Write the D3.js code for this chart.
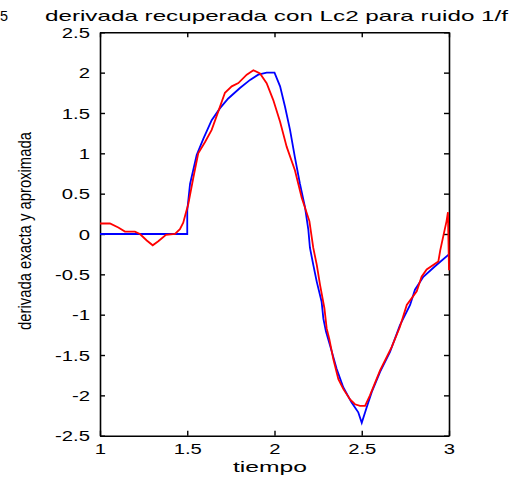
<!DOCTYPE html>
<html>
<head>
<meta charset="utf-8">
<script src="https://cdn.jsdelivr.net/npm/d3@7"></script>
<style>
  html, body { margin: 0; padding: 0; background: #fff; }
  svg { display: block; }
  text { font-family: "Liberation Sans", Arial, sans-serif; fill: #000; }
</style>
</head>
<body>
<script>
// Exact derivative (blue)
const tExact = [1.0, 1.5, 1.5, 1.516, 1.554, 1.592, 1.64, 1.688, 1.735, 1.802, 1.86, 1.907, 1.955, 2.0,
  2.032, 2.06, 2.089, 2.117, 2.146, 2.175, 2.194, 2.203, 2.222, 2.242, 2.27, 2.28, 2.295, 2.318, 2.356,
  2.394, 2.442, 2.48, 2.5, 2.528, 2.557, 2.605, 2.662, 2.719, 2.777, 2.805, 2.853, 2.92, 2.996, 3.0];
const dExact = [0, 0, 0.29, 0.62, 0.98, 1.18, 1.41, 1.56, 1.68, 1.81, 1.91, 1.975, 2.0, 2.0,
  1.83, 1.58, 1.29, 0.95, 0.62, 0.33, 0.05, -0.17, -0.38, -0.59, -0.84, -1.05, -1.21, -1.38, -1.67,
  -1.9, -2.09, -2.21, -2.34, -2.15, -1.96, -1.71, -1.46, -1.13, -0.88, -0.69, -0.53, -0.4, -0.26, -0.25];

// Recovered derivative with Lc2, 1/f noise (red)
const tApprox = [1.0, 1.057, 1.105, 1.143, 1.2, 1.229, 1.268, 1.302, 1.334, 1.378, 1.43, 1.458, 1.477,
  1.493, 1.506, 1.535, 1.563, 1.602, 1.64, 1.678, 1.716, 1.755, 1.793, 1.841, 1.879, 1.917, 1.955, 1.993,
  2.032, 2.07, 2.117, 2.156, 2.2, 2.222, 2.242, 2.261, 2.286, 2.299, 2.314, 2.337, 2.366, 2.394, 2.433,
  2.461, 2.49, 2.519, 2.547, 2.605, 2.672, 2.719, 2.758, 2.815, 2.843, 2.872, 2.939, 2.95, 2.967, 2.986,
  2.994, 3.0];
const dApprox = [0.13, 0.13, 0.08, 0.03, 0.03, 0.0, -0.08, -0.14, -0.09, -0.01, 0.0, 0.06, 0.14,
  0.27, 0.37, 0.70, 1.0, 1.14, 1.29, 1.52, 1.75, 1.83, 1.87, 1.975, 2.03, 1.99, 1.87, 1.66,
  1.39, 1.08, 0.79, 0.45, 0.16, -0.17, -0.38, -0.63, -0.92, -1.17, -1.3, -1.55, -1.8, -1.92, -2.05,
  -2.11, -2.13, -2.13, -2.0, -1.69, -1.4, -1.15, -0.88, -0.71, -0.53, -0.44, -0.34, -0.2, -0.03, 0.16,
  0.27, -0.45];

const xTicks = [1, 1.5, 2, 2.5, 3];
const yTicks = [-2.5, -2, -1.5, -1, -0.5, 0, 0.5, 1, 1.5, 2, 2.5];

const titleText = "derivada recuperada con Lc2 para ruido 1/f";
const xLabelText = "tiempo";
const yLabelText = "derivada exacta y aproximada";

const W = 516, H = 484;
const L = 100, R = 449, T = 32.3, B = 435.7;
const tickLen = 5;
const glyphStretch = 1.45;

const svg = d3.select("body").append("svg").attr("width", W).attr("height", H);

const x = d3.scaleLinear().domain([1, 3]).range([L, R]);
const y = d3.scaleLinear().domain([-2.5, 2.5]).range([B, T]);

const fmt = d => String(d);

// Box axes with inward ticks
const gBottom = svg.append("g").attr("transform", `translate(0,${B})`)
  .call(d3.axisBottom(x).tickValues(xTicks).tickFormat(fmt).tickSizeInner(-tickLen).tickSizeOuter(0));
const gTop = svg.append("g").attr("transform", `translate(0,${T})`)
  .call(d3.axisTop(x).tickValues(xTicks).tickFormat("").tickSizeInner(-tickLen).tickSizeOuter(0));
const gLeft = svg.append("g").attr("transform", `translate(${L},0)`)
  .call(d3.axisLeft(y).tickValues(yTicks).tickFormat(fmt).tickSizeInner(-tickLen).tickSizeOuter(0));
const gRight = svg.append("g").attr("transform", `translate(${R},0)`)
  .call(d3.axisRight(y).tickValues(yTicks).tickFormat("").tickSizeInner(-tickLen).tickSizeOuter(0));

[gBottom, gTop, gLeft, gRight].forEach(g => {
  g.select(".domain").attr("stroke", "#000").attr("stroke-width", 1.6);
  g.selectAll(".tick line").attr("stroke", "#000").attr("stroke-width", 1.4);
});

gBottom.selectAll(".tick text")
  .attr("font-size", 14)
  .attr("font-family", "Liberation Sans, Arial, sans-serif")
  .attr("fill", "#000")
  .attr("y", 18).attr("dy", 0)
  .attr("transform", `scale(${glyphStretch},1)`);

gLeft.selectAll(".tick text")
  .attr("font-size", 14)
  .attr("font-family", "Liberation Sans, Arial, sans-serif")
  .attr("fill", "#000")
  .attr("x", -10 / glyphStretch).attr("dy", "0.36em")
  .attr("transform", `scale(${glyphStretch},1)`);

// Curves
const line = d3.line().x(d => x(d[0])).y(d => y(d[1]));
const exactPts = tExact.map((t, i) => [t, dExact[i]]);
const approxPts = tApprox.map((t, i) => [t, dApprox[i]]);

svg.append("path").datum(exactPts)
  .attr("d", line).attr("fill", "none")
  .attr("stroke", "#0000ff").attr("stroke-width", 1.8).attr("stroke-linejoin", "miter");

svg.append("path").datum(approxPts)
  .attr("d", line).attr("fill", "none")
  .attr("stroke", "#ff0000").attr("stroke-width", 1.8).attr("stroke-linejoin", "miter");

// Title
svg.append("text").attr("x", 0).attr("y", 21)
  .attr("font-size", 15).attr("textLength", 8).attr("lengthAdjust", "spacingAndGlyphs")
  .text("5");
svg.append("text").attr("x", 45).attr("y", 21)
  .attr("font-size", 15).attr("textLength", 463).attr("lengthAdjust", "spacingAndGlyphs")
  .text(titleText);

// Axis labels
svg.append("text").attr("x", 233).attr("y", 471.5)
  .attr("font-size", 14).attr("textLength", 74).attr("lengthAdjust", "spacingAndGlyphs")
  .text(xLabelText);

svg.append("text")
  .attr("transform", `translate(31,${330}) rotate(-90)`)
  .attr("x", 0).attr("y", 0)
  .attr("font-size", 18.5).attr("textLength", 198).attr("lengthAdjust", "spacingAndGlyphs")
  .text(yLabelText);
</script>
</body>
</html>
